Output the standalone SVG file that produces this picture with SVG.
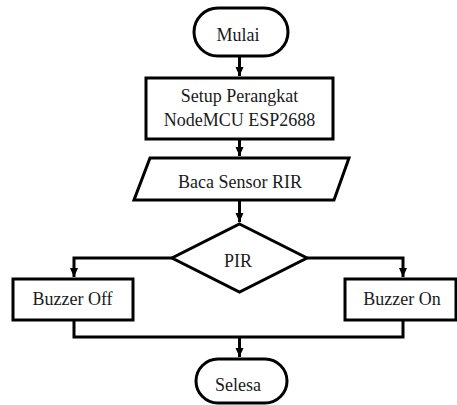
<svg xmlns="http://www.w3.org/2000/svg" width="457" height="405" viewBox="0 0 457 405">
<defs>
<marker id="arr" markerWidth="10" markerHeight="10" refX="9" refY="5" orient="auto" markerUnits="userSpaceOnUse">
<path d="M0,1 L9,5 L0,9 Z" fill="#000"/>
</marker>
<style>
.s{fill:#fff;stroke:#000;stroke-width:3;stroke-linejoin:miter}
.c{fill:none;stroke:#000;stroke-width:3}
.t{font-family:'Liberation Serif','DejaVu Serif',serif;font-size:18px;fill:#1a1a1a;text-anchor:middle}
</style>
</defs>
<rect width="457" height="405" fill="#fff"/>
<g id="connectors">
<path class="c" d="M239.5,56 V76" marker-end="url(#arr)"/>
<path class="c" d="M239.5,139 V156" marker-end="url(#arr)"/>
<path class="c" d="M239.5,200 V222" marker-end="url(#arr)"/>
<path class="c" d="M172,258 H74 V277" marker-end="url(#arr)"/>
<path class="c" d="M307,258 H403 V277" marker-end="url(#arr)"/>
<path class="c" d="M74,320 V337 H403 V320"/>
<path class="c" d="M239.5,337 V357" marker-end="url(#arr)"/>
</g>
<g id="mulai">
<rect class="s" x="194" y="8" width="94" height="48" rx="24" ry="24"/>
<text class="t" x="238" y="41" font-family="Liberation Serif, serif">Mulai</text>
</g>
<g id="setup">
<rect class="s" x="146" y="78" width="187" height="61"/>
<text class="t" x="239.5" y="102" font-family="Liberation Serif, serif">Setup Perangkat</text>
<text class="t" x="239.5" y="126" font-family="Liberation Serif, serif">NodeMCU ESP2688</text>
</g>
<g id="baca">
<polygon class="s" points="150,158 349,158 334,200 134,200"/>
<text class="t" x="240" y="188" font-family="Liberation Serif, serif">Baca Sensor RIR</text>
</g>
<g id="pir">
<polygon class="s" points="239.5,224 307,258 239.5,292 172,258"/>
<text class="t" x="238" y="267" font-family="Liberation Serif, serif">PIR</text>
</g>
<g id="buzzeroff">
<rect class="s" x="13" y="279" width="120" height="41"/>
<text class="t" x="72.5" y="305" font-family="Liberation Serif, serif">Buzzer Off</text>
</g>
<g id="buzzeron">
<rect class="s" x="345" y="279" width="111" height="41"/>
<text class="t" x="402" y="305" font-family="Liberation Serif, serif">Buzzer On</text>
</g>
<g id="selesa">
<rect class="s" x="196" y="359" width="91" height="44" rx="22" ry="22"/>
<text class="t" x="238" y="391" font-family="Liberation Serif, serif">Selesa</text>
</g>
</svg>
